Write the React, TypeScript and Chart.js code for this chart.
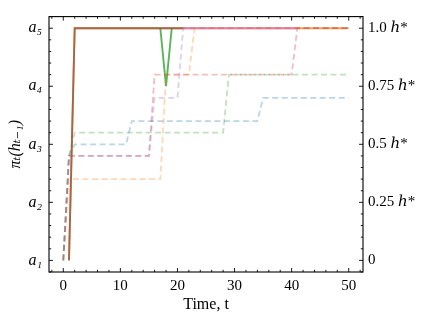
import React, { useEffect, useRef } from 'react';
import { Chart, registerables } from 'chart.js';

Chart.register(...registerables);

// ---- Data ----
// Solid lines: action index a_k (left axis)
const brownT = [1, 2, 21];
const brownA = [1, 5, 5];
const greenT = [17, 18, 19];
const greenA = [5, 4, 5];
const pinkT = [21, 41];
const pinkA = [5, 5];
const orangeT = [1, 2, 50];
const orangeA = [1, 5, 5];

// Dashed lines: fraction of h* (right axis)
const blueDashT = [0, 1, 2, 11, 12, 34, 35, 50];
const blueDashH = [0, 0.45, 0.5, 0.5, 0.6, 0.6, 0.7, 0.7];
const orangeDashT = [0, 1, 17, 18, 22, 23, 50];
const orangeDashH = [0, 0.35, 0.35, 0.8, 0.8, 1, 1];
const greenDashT = [0, 1, 2, 28, 29, 50];
const greenDashH = [0, 0.45, 0.55, 0.55, 0.8, 0.8];
const redDashT = [0, 1, 15, 16, 40, 41, 50];
const redDashH = [0, 0.45, 0.45, 0.8, 0.8, 1, 1];
const purpleDashT = [0, 1, 15, 16, 20, 21, 50];
const purpleDashH = [0, 0.45, 0.45, 0.7, 0.7, 1, 1];

const leftTickLabels = ['a₁', 'a₂', 'a₃', 'a₄', 'a₅'];
const rightTickValues = [0, 0.25, 0.5, 0.75, 1];
const rightTickLabels = ['0', '0.25 ℎ*', '0.5 ℎ*', '0.75 ℎ*', '1.0 ℎ*'];
const xTickValues = [0, 10, 20, 30, 40, 50];

const C = {
  blue: '31,119,180',
  orange: '255,127,14',
  green: '44,160,44',
  red: '214,39,40',
  purple: '148,103,189',
  brown: '140,86,75',
  pink: '227,119,194',
};

const pts = (t: number[], v: number[]) => t.map((x, i) => ({ x, y: v[i] }));

const FONT = 'Liberation Serif, DejaVu Serif, serif';

const frameTicks = {
  id: 'frameTicks',
  afterDraw(chart: any) {
    const { ctx, chartArea } = chart;
    const { left, right, top, bottom } = chartArea;
    const xs = chart.scales.x;
    const ys = chart.scales.y;
    const y2 = chart.scales.y2;
    ctx.save();
    ctx.strokeStyle = '#000';
    ctx.lineWidth = 1.1;
    ctx.strokeRect(left, top, right - left, bottom - top);
    ctx.lineWidth = 0.9;
    const MAJ = 4;
    const MIN = 2.2;
    ctx.beginPath();
    for (let v = -2; v <= 52; v += 2) {
      const px = xs.getPixelForValue(v);
      if (px < left || px > right) continue;
      const len = v % 10 === 0 ? MAJ : MIN;
      ctx.moveTo(px, bottom);
      ctx.lineTo(px, bottom - len);
      ctx.moveTo(px, top);
      ctx.lineTo(px, top + len);
    }
    for (let k = 4; k <= 26; k++) {
      const py = ys.getPixelForValue(k / 5);
      if (py < top || py > bottom) continue;
      const len = k % 5 === 0 ? MAJ : MIN;
      ctx.moveTo(left, py);
      ctx.lineTo(left + len, py);
    }
    for (let k = -1; k <= 21; k++) {
      const py = y2.getPixelForValue(k / 20);
      if (py < top || py > bottom) continue;
      const len = k % 5 === 0 ? MAJ : MIN;
      ctx.moveTo(right, py);
      ctx.lineTo(right - len, py);
    }
    ctx.stroke();
    ctx.restore();
  },
};

export default function App() {
  const ref = useRef<HTMLCanvasElement>(null);

  useEffect(() => {
    if (!ref.current) return;
    const solid = (label: string, col: string, t: number[], a: number[], order: number) => ({
      label,
      data: pts(t, a),
      yAxisID: 'y',
      borderColor: `rgba(${col},0.78)`,
      borderWidth: 1.9,
      pointRadius: 0,
      fill: false,
      tension: 0,
      order,
    });
    const dashed = (label: string, col: string, t: number[], h: number[], order: number) => ({
      label,
      data: pts(t, h),
      yAxisID: 'y2',
      borderColor: `rgba(${col},0.3)`,
      borderWidth: 1.8,
      borderDash: [6, 3.5],
      pointRadius: 0,
      fill: false,
      tension: 0,
      order,
    });

    const chart = new Chart(ref.current, {
      type: 'line',
      data: {
        datasets: [
          dashed('blue h', C.blue, blueDashT, blueDashH, 5),
          dashed('orange h', C.orange, orangeDashT, orangeDashH, 4),
          dashed('green h', C.green, greenDashT, greenDashH, 3),
          dashed('red h', C.red, redDashT, redDashH, 2),
          dashed('purple h', C.purple, purpleDashT, purpleDashH, 1),
          solid('orange', C.orange, orangeT, orangeA, 9),
          solid('pink', C.pink, pinkT, pinkA, 8),
          solid('green', C.green, greenT, greenA, 7),
          solid('brown', C.brown, brownT, brownA, 6),
        ],
      },
      options: {
        animation: false,
        responsive: false,
        maintainAspectRatio: false,
        layout: { padding: { top: 5, left: 0, right: 0, bottom: 0 } },
        plugins: { legend: { display: false }, tooltip: { enabled: false } },
        scales: {
          x: {
            type: 'linear',
            min: -2.5,
            max: 52.5,
            afterBuildTicks: (s: any) => {
              s.ticks = xTickValues.map((value) => ({ value }));
            },
            ticks: {
              padding: 5,
              color: '#000',
              maxRotation: 0,
              font: { family: FONT, size: 15 },
            },
            grid: { display: false, drawTicks: false },
            border: { display: false },
            title: {
              display: true,
              text: 'Time, t',
              color: '#000',
              font: { family: FONT, size: 16 },
              padding: { top: 0, bottom: 5 },
            },
            afterFit: (s: any) => {
              s.height = 47;
            },
          },
          y: {
            type: 'linear',
            position: 'left',
            min: 0.8,
            max: 5.2,
            afterBuildTicks: (s: any) => {
              s.ticks = leftTickLabels.map((_, i) => ({ value: i + 1 }));
            },
            ticks: {
              padding: 7,
              color: '#000',
              font: { family: FONT, size: 16, style: 'italic' },
              callback: (v: any) => leftTickLabels[Math.round(Number(v)) - 1] ?? '',
            },
            grid: { display: false, drawTicks: false },
            border: { display: false },
            title: {
              display: true,
              text: 'πₜ(hₜ₋₁)',
              color: '#000',
              font: { family: FONT, size: 16, style: 'italic' },
              padding: { top: 6, bottom: 0 },
            },
            afterFit: (s: any) => {
              s.width = 49;
            },
          },
          y2: {
            type: 'linear',
            position: 'right',
            min: -0.05,
            max: 1.05,
            afterBuildTicks: (s: any) => {
              s.ticks = rightTickValues.map((value) => ({ value }));
            },
            ticks: {
              padding: 5,
              color: '#000',
              font: { family: FONT, size: 15 },
              callback: (v: any) => {
                const i = rightTickValues.findIndex((r) => Math.abs(r - Number(v)) < 1e-6);
                return i >= 0 ? rightTickLabels[i] : '';
              },
            },
            grid: { display: false, drawTicks: false },
            border: { display: false },
            afterFit: (s: any) => {
              s.width = 58;
            },
          },
        },
      },
      plugins: [frameTicks],
    });
    return () => chart.destroy();
  }, []);

  return (
    <div style={{ position: 'fixed', left: 0, top: 0, width: 421, height: 319, background: '#fff' }}>
      <canvas ref={ref} width={421} height={319} />
    </div>
  );
}
